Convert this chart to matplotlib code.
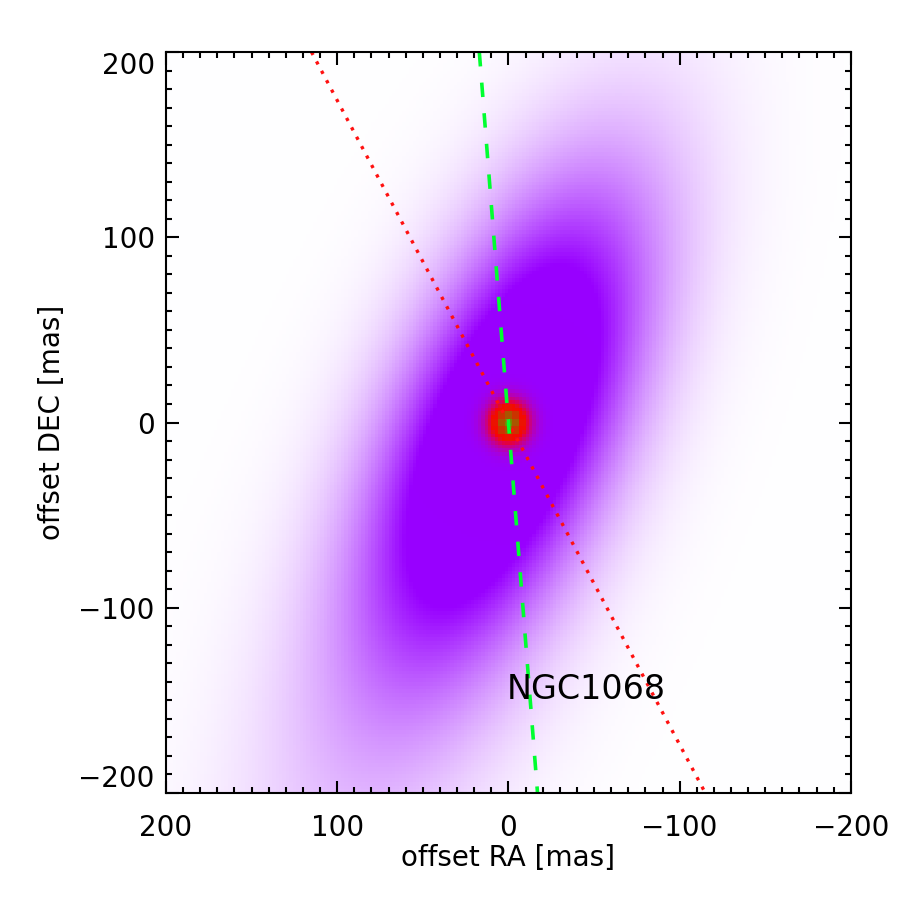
import numpy as np
import matplotlib.pyplot as plt
from matplotlib.ticker import MultipleLocator

# extended (warm) emission, two elongated gaussians along the same axis
pa_deg = 25.0                 # tilt of major axis from north toward -RA
comp_shift = [0.0, -110.0]    # offset along major axis [mas]
comp_sig_maj = [92.0, 150.0]  # sigma along major axis [mas]
comp_sig_min = [40.0, 52.0]   # sigma along minor axis [mas]
comp_amp = [1.0, 0.18]
sat_level = 0.68              # display saturates above this

# compact nucleus
core_sigma = 7.5
core_sat = 0.45
dot_sigma = 4.0
dot_peak = 0.55

# position angle lines through the nucleus
red_ra = [115, -115]
red_dec = [200, -200]
green_ra = [17, -17]
green_dec = [200, -200]

label_text = 'NGC1068'
label_ra, label_dec = 1, -144

ticks = [200, 100, 0, -100, -200]

purple = np.array([152, 0, 255]) / 255
red = np.array([1.0, 0.0, 0.0])
green = np.array([0.0, 1.0, 0.0])

# model image on a 2 mas grid
xs = np.arange(199, -200, -2.0)
ys = np.arange(-199, 200, 2.0)
X, Y = np.meshgrid(xs, ys)
th = np.radians(pa_deg)
U = -X * np.sin(th) + Y * np.cos(th)
V = X * np.cos(th) + Y * np.sin(th)

img = np.zeros_like(X)
for du, su, sv, a in zip(comp_shift, comp_sig_maj, comp_sig_min, comp_amp):
    img += a * np.exp(-0.5 * ((U - du) ** 2 / su ** 2 + V ** 2 / sv ** 2))
f = np.clip(img / sat_level, 0, 1)
rgb = (1 - f)[..., None] * np.ones(3) + f[..., None] * purple

# red nucleus
r2 = X ** 2 + Y ** 2
a_r = np.clip(np.exp(-r2 / (2 * core_sigma ** 2)) / core_sat, 0, 1)[..., None]
rgb = rgb * (1 - a_r) + red * a_r
# green centre on a coarser 4 mas grid
Xq = np.round(X / 4) * 4
Yq = np.round(Y / 4) * 4
rq2 = Xq ** 2 + Yq ** 2
a_g = (dot_peak * np.exp(-rq2 / (2 * dot_sigma ** 2)))[..., None]
rgb = rgb * (1 - a_g) + green * a_g

plt.rcParams['font.family'] = 'DejaVu Sans'

fig = plt.figure(figsize=(9, 9), dpi=100)
ax = fig.add_axes([0.1844, 0.1189, 0.761, 0.8233])

ax.imshow(rgb, extent=[200, -200, -200, 200], origin='lower',
          interpolation='nearest', aspect='auto')

ax.plot(red_ra, red_dec, color='#ff1010', lw=2.4, linestyle=(0, (1, 2.2)))
ax.plot(green_ra, green_dec, color='#00ff30', lw=2.6, linestyle=(0, (4, 4.5)))

ax.text(label_ra, label_dec, label_text, fontsize=24, ha='left', va='center')

ax.set_xlim(200, -200)
ax.set_ylim(-200, 200)
ax.set_xticks(ticks)
ax.set_yticks(ticks)
ax.xaxis.set_minor_locator(MultipleLocator(10))
ax.yaxis.set_minor_locator(MultipleLocator(10))
ax.tick_params(which='both', direction='in', top=True, right=True, width=1.5)
ax.tick_params(which='major', length=9, labelsize=20)
ax.tick_params(which='minor', length=4.5)
ax.tick_params(axis='x', pad=15)
ax.tick_params(axis='y', pad=8)
for sp in ax.spines.values():
    sp.set_linewidth(1.5)

labs = ax.get_yticklabels()
labs[0].set_va('top')
labs[-1].set_va('bottom')

ax.set_xlabel('offset RA [mas]', fontsize=20)
ax.set_ylabel('offset DEC [mas]', fontsize=20)
ax.xaxis.label.set_va('center')
ax.yaxis.label.set_va('center')
ax.xaxis.set_label_coords(0.5, -0.088)
ax.yaxis.set_label_coords(-0.166, 0.5)

fig.savefig('out.png', dpi=100)
